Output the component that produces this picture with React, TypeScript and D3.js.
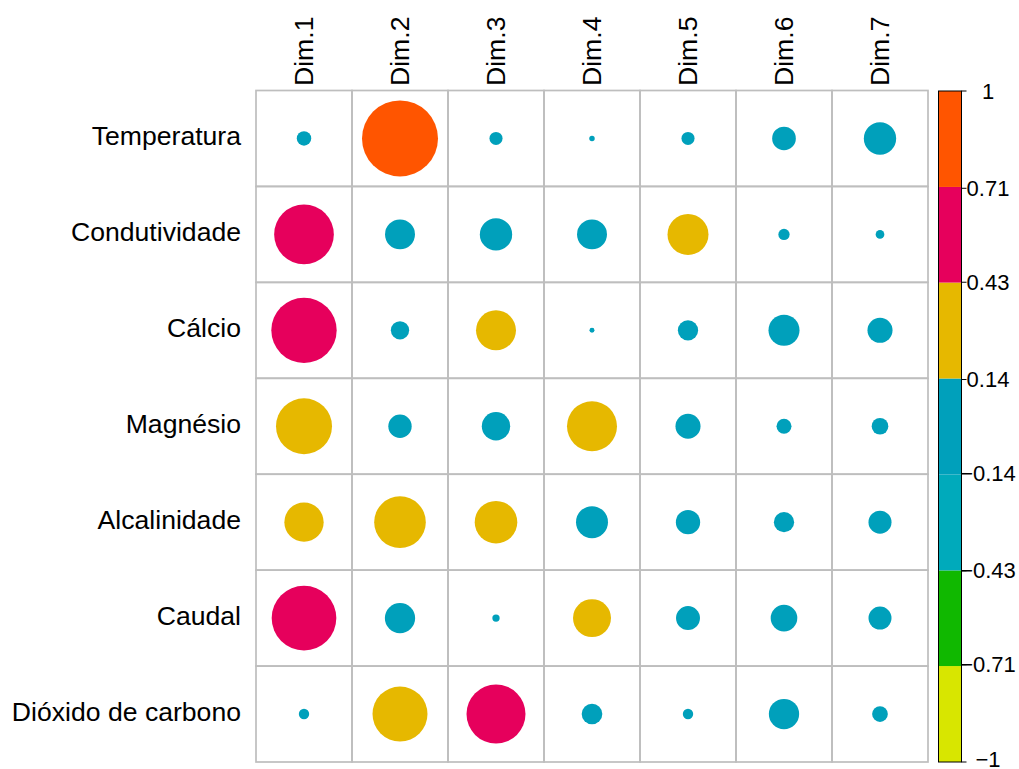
import React from "react";
import * as d3 from "d3";

const rowLabels = ["Temperatura", "Condutividade", "Cálcio", "Magnésio", "Alcalinidade", "Caudal", "Dióxido de carbono"];
const colLabels = ["Dim.1", "Dim.2", "Dim.3", "Dim.4", "Dim.5", "Dim.6", "Dim.7"];

const temperatura = [0.028, 0.774, 0.023, 0.004, 0.023, 0.075, 0.14];
const condutividade = [0.477, 0.12, 0.14, 0.12, 0.225, 0.017, 0.01];
const calcio = [0.572, 0.045, 0.214, 0.0033, 0.055, 0.129, 0.084];
const magnesio = [0.42, 0.073, 0.108, 0.335, 0.084, 0.03, 0.037];
const alcalinidade = [0.207, 0.357, 0.243, 0.137, 0.079, 0.055, 0.071];
const caudal = [0.56, 0.123, 0.0072, 0.193, 0.077, 0.095, 0.071];
const dioxido = [0.0144, 0.405, 0.466, 0.057, 0.0144, 0.123, 0.033];
const values = [temperatura, condutividade, calcio, magnesio, alcalinidade, caudal, dioxido];

const legendTicks = [1, 0.71, 0.43, 0.14, -0.14, -0.43, -0.71, -1];
const legendBreaks = [-1, -0.714, -0.429, -0.143, 0.143, 0.429, 0.714, 1];
const palette = ["#D8E600", "#10B800", "#00AABB", "#00A0BB", "#E6B800", "#E6005C", "#FF5500"];

const FONT = "'Liberation Sans', Arial, Helvetica, sans-serif";

export default function App() {
  const W = 1019, H = 769;
  const left = 256, right = 928, top = 90.5, bottom = 762;
  const x = d3.scaleBand<string>().domain(colLabels).range([left, right]);
  const y = d3.scaleBand<string>().domain(rowLabels).range([top, bottom]);
  const color = d3.scaleThreshold<number, string>().domain(legendBreaks.slice(1, -1)).range(palette);
  const cell = x.bandwidth();
  const rScale = (v: number) => 0.45 * cell * Math.sqrt(Math.abs(v));

  const ly = d3.scaleLinear().domain([-1, 1]).range([762, 91]);
  const lx0 = 938.5, lx1 = 961.5;

  return (
    <svg width={W} height={H} style={{ position: "absolute", left: 0, top: 0, background: "#fff" }} fontFamily={FONT}>
      <rect x={0} y={0} width={W} height={H} fill="#fff" />
      {rowLabels.map((r) =>
        colLabels.map((c) => (
          <rect key={r + c} x={x(c)} y={y(r)} width={cell} height={y.bandwidth()} fill="none" stroke="#BEBEBE" strokeWidth={1.7} />
        ))
      )}
      {rowLabels.map((r, i) =>
        colLabels.map((c, j) => (
          <circle key={"c" + r + c} cx={(x(c) as number) + cell / 2} cy={(y(r) as number) + y.bandwidth() / 2}
            r={rScale(values[i][j])} fill={color(values[i][j])} />
        ))
      )}
      {rowLabels.map((r) => (
        <text key={"rl" + r} x={241} y={(y(r) as number) + y.bandwidth() / 2 + 7} textAnchor="end" fontSize={26.6} fill="#000">{r}</text>
      ))}
      {colLabels.map((c) => {
        const cx = (x(c) as number) + cell / 2 + 8.5;
        return (
          <text key={"cl" + c} transform={`translate(${cx},86) rotate(-90)`} textAnchor="start" fontSize={26.6} fill="#000">{c}</text>
        );
      })}
      {palette.map((col, k) => (
        <rect key={"lg" + k} x={lx0} y={ly(legendBreaks[k + 1])} width={lx1 - lx0} height={ly(legendBreaks[k]) - ly(legendBreaks[k + 1])} fill={col} />
      ))}
      <rect x={lx0} y={ly(1)} width={lx1 - lx0} height={ly(-1) - ly(1)} fill="none" stroke="#000" strokeWidth={1} />
      {legendTicks.map((t) => (
        <g key={"lt" + t}>
          <line x1={lx1} x2={lx1 + 5} y1={ly(t)} y2={ly(t)} stroke="#000" strokeWidth={1} />
          <text x={988} y={ly(t) + (t === -1 ? 5 : 7.5)} textAnchor="middle" fontSize={22} fill="#000">{t < 0 ? "\u2212" + Math.abs(t) : String(t)}</text>
        </g>
      ))}
    </svg>
  );
}
